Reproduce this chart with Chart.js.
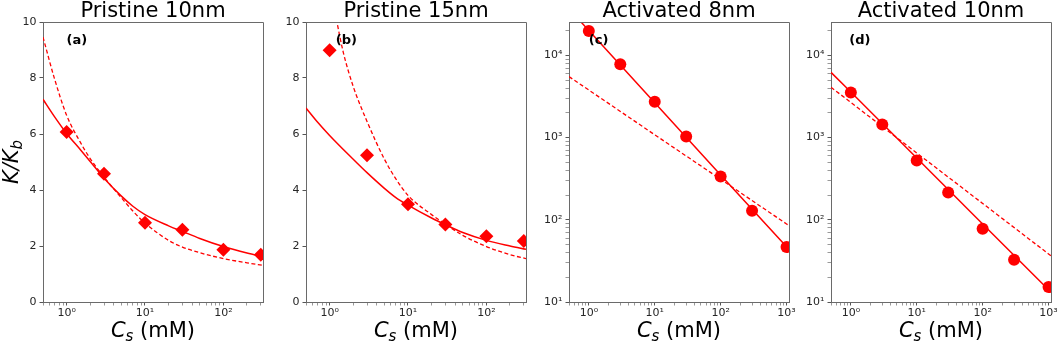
<!DOCTYPE html>
<html>
<head>
<meta charset="utf-8">
<script src="https://cdn.jsdelivr.net/npm/chart.js@4.4.1/dist/chart.umd.min.js"></script>
<style>
    html, body { margin: 0; padding: 0; background: #fff; }
    #wrap { position: relative; width: 1059px; height: 343px; overflow: hidden; }
    #wrap canvas { position: absolute; top: 0; }
</style>
</head>
<body>
<div id="wrap">
    <canvas id="p1" width="273" height="343" style="left:0px"></canvas>
    <canvas id="p2" width="273" height="343" style="left:263px"></canvas>
    <canvas id="p3" width="273" height="343" style="left:526px"></canvas>
    <canvas id="p4" width="273" height="343" style="left:788px"></canvas>
</div>
<script>
// Salt concentrations (mM)
const csPristine = [1, 3, 10, 30, 100, 300];
const csActivated = [1, 3, 10, 30, 100, 300, 1000];

// (a) Pristine 10nm
const pristine10 = [6.07, 4.58, 2.83, 2.58, 1.87, 1.69];
const pristine10SolidX = [0.5, 0.7, 1, 1.5, 2, 3, 5, 7, 10, 20, 30, 50, 100, 200, 320];
const pristine10SolidY = [7.24, 6.62, 6.02, 5.44, 5.02, 4.42, 3.78, 3.42, 3.12, 2.72, 2.52, 2.27, 1.98, 1.75, 1.62];
const pristine10DashX = [0.5, 0.7, 1, 1.5, 2, 3, 5, 7, 10, 20, 30, 50, 100, 200, 320];
const pristine10DashY = [9.46, 7.98, 6.67, 5.7, 5.12, 4.46, 3.72, 3.25, 2.82, 2.2, 1.96, 1.76, 1.55, 1.4, 1.31];

// (b) Pristine 15nm
const pristine15 = [8.99, 5.24, 3.49, 2.77, 2.35, 2.18];
const pristine15SolidX = [0.5, 0.7, 1, 2, 3, 5, 7, 10, 20, 30, 50, 100, 200, 320];
const pristine15SolidY = [6.93, 6.43, 5.95, 5.1, 4.62, 4.06, 3.73, 3.46, 3.0, 2.76, 2.48, 2.2, 2.0, 1.88];
const pristine15DashX = [1.1, 1.24, 1.5, 2, 3, 5, 7, 10, 20, 30, 50, 100, 200, 320];
const pristine15DashY = [10.8, 10.0, 8.9, 7.7, 6.45, 5.1, 4.4, 3.81, 3.12, 2.78, 2.38, 1.98, 1.69, 1.55];

// (c) Activated 8nm
const activated8 = [19800, 7800, 2730, 1030, 336, 129, 46.5];
const activated8SolidX = [0.5, 1, 10, 100, 1000, 1090];
const activated8SolidY = [36700, 20000, 2650, 350, 47, 43];
const activated8DashX = [0.5, 1, 10, 100, 1000, 1090];
const activated8DashY = [5500, 3780, 1080, 311, 89, 85];

// (d) Activated 10nm
const activated10 = [3520, 1440, 525, 215, 78, 32.7, 15.2];
const activated10SolidX = [0.5, 1, 10, 100, 1000, 1090];
const activated10SolidY = [6200, 3570, 565, 89, 14.1, 13.1];
const activated10DashX = [0.5, 1, 10, 100, 1000, 1090];
const activated10DashY = [4090, 2670, 649, 158, 38.4, 36.5];

// Tick labels
const xMajorTicks = [1, 10, 100, 1000];
const xMajorLabels = ['10⁰', '10¹', '10²', '10³'];
const yLogMajorTicks = [10, 100, 1000, 10000];
const yLogMajorLabels = ['10¹', '10²', '10³', '10⁴'];
const yLinearTicks = [0, 2, 4, 6, 8, 10];

const RED = '#ff0000';
const FONT = '"DejaVu Sans", sans-serif';
const SPINE = '#6a6a6a';
const TICK_TEXT = '#262626';

// all 1..9 x 10^n positions between min and max (tick marks)
function logTickValues(min, max) {
    const out = [];
    for (let e = Math.floor(Math.log10(min)); e <= Math.ceil(Math.log10(max)); e++) {
        for (let m = 1; m <= 9; m++) {
            const v = m * Math.pow(10, e);
            if (v >= min * 0.999 && v <= max * 1.001) out.push(v);
        }
    }
    return out;
}

function pts(xs, ys) {
    return xs.map((x, i) => ({ x: x, y: ys[i] }));
}

// main text italic, subscript italic smaller, rest upright
function drawMath(ctx, main, sub, rest, cx, base) {
    const fMain = 'italic 21px ' + FONT;
    const fSub = 'italic 15px ' + FONT;
    const fRest = '21px ' + FONT;
    ctx.font = fMain; const w1 = ctx.measureText(main).width;
    ctx.font = fSub; const w2 = ctx.measureText(sub).width;
    ctx.font = fRest; const w3 = ctx.measureText(rest).width;
    let x = cx - (w1 + w2 + w3) / 2;
    ctx.textAlign = 'left';
    ctx.textBaseline = 'alphabetic';
    ctx.font = fMain; ctx.fillText(main, x, base); x += w1;
    ctx.font = fSub; ctx.fillText(sub, x, base + 4.5); x += w2;
    ctx.font = fRest; ctx.fillText(rest, x, base);
}

const decorPlugin = {
    id: 'decor',
    afterDraw(chart) {
        const o = chart.options.plugins.decor;
        const ctx = chart.ctx;
        const a = chart.chartArea;
        const al = v => Math.round(v - 0.5) + 0.5;
        ctx.save();
        // top and right spines
        ctx.strokeStyle = SPINE;
        ctx.lineWidth = 1;
        ctx.beginPath();
        ctx.moveTo(al(a.left), al(a.top));
        ctx.lineTo(al(a.right), al(a.top));
        ctx.lineTo(al(a.right), al(a.bottom));
        ctx.stroke();

        ctx.fillStyle = '#000';
        ctx.font = '21px ' + FONT;
        ctx.textAlign = 'center';
        ctx.textBaseline = 'alphabetic';
        ctx.fillText(o.title, (a.left + a.right) / 2, 17);

        drawMath(ctx, 'C', 's', ' (mM)', (a.left + a.right) / 2, 336.5);

        if (o.yLabel) {
            ctx.save();
            ctx.translate(17.5, (a.top + a.bottom) / 2);
            ctx.rotate(-Math.PI / 2);
            drawMath(ctx, 'K/K', 'b', '', 0, 0);
            ctx.restore();
        }

        ctx.font = 'bold 13px ' + FONT;
        ctx.textAlign = 'left';
        ctx.textBaseline = 'middle';
        ctx.fillText(o.letter, chart.scales.x.getPixelForValue(o.letterX), a.top + 19);
        ctx.restore();
    }
};

function makePanel(id, cfg) {
    const xTicks = logTickValues(0.5, cfg.xMax);
    const tickColor = c => (c.tick && cfg.majorsOf(c.scale.axis).indexOf(c.tick.value) >= 0) ? '#555' : '#999';

    const yScale = cfg.logY ? {
        type: 'logarithmic',
        min: 10,
        max: 25400,
        afterBuildTicks: s => { s.ticks = logTickValues(10, 25400).map(v => ({ value: v })); },
        ticks: {
            autoSkip: false,
            padding: 3,
            color: TICK_TEXT,
            font: { family: FONT, size: 11 },
            callback: v => {
                const i = yLogMajorTicks.indexOf(v);
                return i >= 0 ? yLogMajorLabels[i] : '';
            }
        }
    } : {
        type: 'linear',
        min: 0,
        max: 10,
        afterBuildTicks: s => { s.ticks = yLinearTicks.map(v => ({ value: v })); },
        ticks: {
            padding: 3,
            color: TICK_TEXT,
            font: { family: FONT, size: 11 }
        }
    };
    Object.assign(yScale, {
        afterFit: s => { s.width = 43; },
        border: { display: true, color: SPINE, width: 1 },
        grid: { display: true, drawOnChartArea: false, drawTicks: true, tickLength: 3.5, tickColor: tickColor }
    });

    const curve = cfg.logY ? 'default' : 'monotone';

    return new Chart(document.getElementById(id), {
        type: 'scatter',
        data: {
            datasets: [
                {
                    data: pts(cfg.cs, cfg.values),
                    showLine: false,
                    pointStyle: cfg.marker,
                    pointRadius: cfg.marker === 'rectRot' ? 7 : 6,
                    backgroundColor: RED,
                    borderWidth: 0,
                    clip: 0
                },
                {
                    data: pts(cfg.solidX, cfg.solidY),
                    showLine: true,
                    pointRadius: 0,
                    borderColor: RED,
                    borderWidth: 1.5,
                    cubicInterpolationMode: curve,
                    tension: 0,
                    clip: 0
                },
                {
                    data: pts(cfg.dashX, cfg.dashY),
                    showLine: true,
                    pointRadius: 0,
                    borderColor: RED,
                    borderWidth: 1.3,
                    borderDash: [4, 2.5],
                    cubicInterpolationMode: curve,
                    tension: 0,
                    clip: 0
                }
            ]
        },
        options: {
            responsive: false,
            animation: false,
            events: [],
            layout: { padding: { top: 22, right: 10, left: 0, bottom: 0 } },
            scales: {
                x: {
                    type: 'logarithmic',
                    min: 0.5,
                    max: cfg.xMax,
                    afterBuildTicks: s => { s.ticks = xTicks.map(v => ({ value: v })); },
                    afterFit: s => { s.height = 41; },
                    border: { display: true, color: SPINE, width: 1 },
                    grid: { display: true, drawOnChartArea: false, drawTicks: true, tickLength: 3.5, tickColor: tickColor },
                    ticks: {
                        autoSkip: false,
                        maxRotation: 0,
                        padding: 1,
                        color: TICK_TEXT,
                        font: { family: FONT, size: 11 },
                        callback: v => {
                            const i = xMajorTicks.indexOf(v);
                            return i >= 0 ? xMajorLabels[i] : '';
                        }
                    }
                },
                y: yScale
            },
            plugins: {
                legend: { display: false },
                tooltip: { enabled: false },
                decor: { title: cfg.title, letter: cfg.letter, letterX: cfg.letterX, yLabel: !!cfg.yLabel }
            }
        },
        plugins: [decorPlugin]
    });
}

function majorsFor(logY) {
    return axis => axis === 'x' ? xMajorTicks : (logY ? yLogMajorTicks : yLinearTicks);
}

makePanel('p1', {
    title: 'Pristine 10nm', letter: '(a)', letterX: 1, yLabel: true, logY: false, xMax: 320,
    marker: 'rectRot', cs: csPristine, values: pristine10,
    solidX: pristine10SolidX, solidY: pristine10SolidY, dashX: pristine10DashX, dashY: pristine10DashY,
    majorsOf: majorsFor(false)
});
makePanel('p2', {
    title: 'Pristine 15nm', letter: '(b)', letterX: 1.2, logY: false, xMax: 320,
    marker: 'rectRot', cs: csPristine, values: pristine15,
    solidX: pristine15SolidX, solidY: pristine15SolidY, dashX: pristine15DashX, dashY: pristine15DashY,
    majorsOf: majorsFor(false)
});
makePanel('p3', {
    title: 'Activated 8nm', letter: '(c)', letterX: 1, logY: true, xMax: 1090,
    marker: 'circle', cs: csActivated, values: activated8,
    solidX: activated8SolidX, solidY: activated8SolidY, dashX: activated8DashX, dashY: activated8DashY,
    majorsOf: majorsFor(true)
});
makePanel('p4', {
    title: 'Activated 10nm', letter: '(d)', letterX: 0.95, logY: true, xMax: 1090,
    marker: 'circle', cs: csActivated, values: activated10,
    solidX: activated10SolidX, solidY: activated10SolidY, dashX: activated10DashX, dashY: activated10DashY,
    majorsOf: majorsFor(true)
});
</script>
</body>
</html>
